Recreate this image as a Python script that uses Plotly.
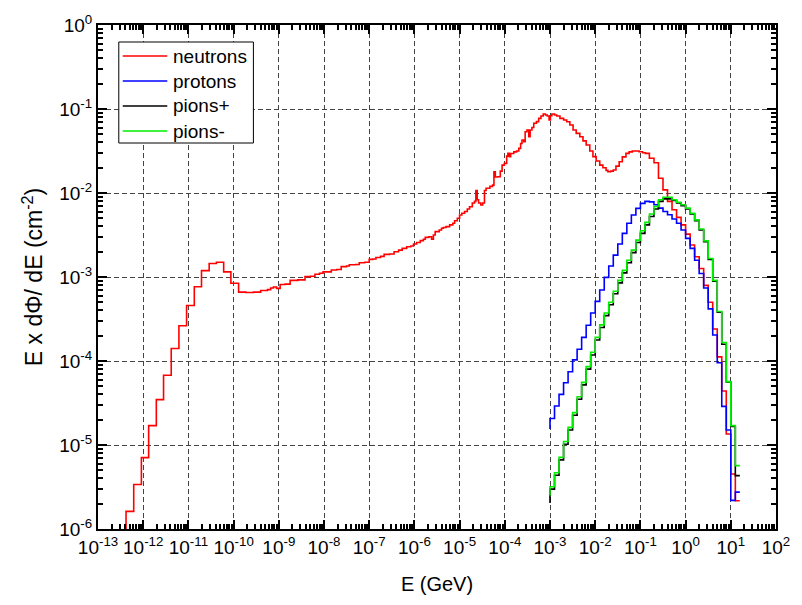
import plotly.graph_objects as go

# ---------------------------------------------------------------------------
# Spectra: E x dPhi/dE (cm^-2) vs E (GeV), stored as histogram bins.
# *_edges are bin boundaries (n+1), *_flux the bin contents (n),
# *_start the level at which the step line begins on the first edge.
# ---------------------------------------------------------------------------

# neutrons (irregular bins)
neutron_edges = [
    4.17e-13, 6.17e-13, 9.12e-13, 1.32e-12, 1.95e-12, 2.82e-12, 4.17e-12, 6.17e-12,
    9.12e-12, 1.35e-11, 1.95e-11, 2.88e-11, 4.17e-11, 6.03e-11, 8.71e-11, 1.29e-10,
    1.86e-10, 2.75e-10, 3.98e-10, 5.62e-10, 6.61e-10, 7.59e-10, 8.91e-10, 1.07e-9,
    1.38e-9, 1.78e-9, 2.63e-9, 3.80e-9, 5.01e-9, 6.31e-9, 7.94e-9, 9.55e-9,
    1.45e-8, 1.91e-8, 2.40e-8, 3.16e-8, 3.63e-8, 5.01e-8, 6.03e-8, 7.94e-8,
    1.00e-7, 1.20e-7, 1.41e-7, 1.78e-7, 2.14e-7, 2.82e-7, 3.55e-7, 4.47e-7,
    5.37e-7, 6.76e-7, 8.32e-7, 9.55e-7, 1.12e-6, 1.35e-6, 1.58e-6, 1.74e-6,
    2.09e-6, 2.40e-6, 2.63e-6, 2.88e-6, 3.55e-6, 3.98e-6, 4.37e-6, 5.01e-6,
    6.03e-6, 7.08e-6, 7.76e-6, 8.91e-6, 1.00e-5, 1.12e-5, 1.29e-5, 1.48e-5,
    1.66e-5, 1.91e-5, 2.14e-5, 2.29e-5, 2.45e-5, 2.63e-5, 2.95e-5, 3.24e-5,
    3.55e-5, 3.85e-5, 4.68e-5, 5.37e-5, 5.75e-5, 6.17e-5, 6.92e-5, 7.94e-5,
    8.71e-5, 9.77e-5, 1.10e-4, 1.17e-4, 1.26e-4, 1.35e-4, 1.58e-4, 1.82e-4,
    2.04e-4, 2.24e-4, 2.40e-4, 2.63e-4, 2.82e-4, 3.09e-4, 3.39e-4, 3.63e-4,
    3.98e-4, 4.37e-4, 5.01e-4, 5.62e-4, 6.31e-4, 7.08e-4, 7.94e-4, 8.71e-4,
    9.55e-4, 1.02e-3, 1.10e-3, 1.26e-3, 1.41e-3, 1.66e-3, 2.00e-3, 2.34e-3,
    2.75e-3, 3.24e-3, 3.80e-3, 4.57e-3, 5.37e-3, 6.31e-3, 7.59e-3, 8.91e-3,
    1.05e-2, 1.26e-2, 1.48e-2, 1.74e-2, 1.91e-2, 2.19e-2, 2.51e-2, 2.88e-2,
    3.39e-2, 3.98e-2, 4.79e-2, 5.62e-2, 6.61e-2, 7.94e-2, 9.33e-2, 0.112,
    0.129, 0.158, 0.200, 0.251, 0.316, 0.398, 0.501, 0.631,
    0.794, 1.00, 1.26, 1.58, 2.00, 2.51, 3.16, 3.98,
    5.01, 6.31, 7.94, 10.0, 12.6, 15.8,
]
neutron_flux = [
    1.62e-6, 3.39e-6, 7.08e-6, 1.70e-5, 3.47e-5, 6.76e-5, 1.41e-4, 2.63e-4,
    4.57e-4, 7.67e-4, 1.19e-3, 1.45e-3, 1.50e-3, 1.15e-3, 8.41e-4, 6.61e-4,
    6.53e-4, 6.61e-4, 6.92e-4, 7.08e-4, 7.41e-4, 7.59e-4, 7.33e-4, 8.13e-4,
    8.22e-4, 9.12e-4, 9.23e-4, 1.01e-3, 1.02e-3, 1.08e-3, 1.11e-3, 1.15e-3,
    1.21e-3, 1.23e-3, 1.33e-3, 1.35e-3, 1.40e-3, 1.41e-3, 1.48e-3, 1.50e-3,
    1.62e-3, 1.64e-3, 1.71e-3, 1.76e-3, 1.86e-3, 1.88e-3, 2.00e-3, 2.09e-3,
    2.19e-3, 2.29e-3, 2.34e-3, 2.47e-3, 2.57e-3, 2.71e-3, 2.82e-3, 2.96e-3,
    3.02e-3, 2.82e-3, 3.16e-3, 3.47e-3, 3.63e-3, 3.80e-3, 3.89e-3, 3.98e-3,
    4.17e-3, 4.37e-3, 4.68e-3, 5.01e-3, 5.47e-3, 5.75e-3, 6.03e-3, 6.46e-3,
    6.87e-3, 7.59e-3, 7.94e-3, 1.07e-2, 8.32e-3, 7.59e-3, 7.19e-3, 7.59e-3,
    1.07e-2, 1.14e-2, 1.20e-2, 1.24e-2, 1.79e-2, 1.55e-2, 1.56e-2, 1.82e-2,
    2.15e-2, 2.25e-2, 2.75e-2, 2.96e-2, 2.71e-2, 2.95e-2, 3.09e-2, 3.16e-2,
    3.40e-2, 3.89e-2, 4.28e-2, 4.08e-2, 5.37e-2, 5.62e-2, 4.68e-2, 5.62e-2,
    6.03e-2, 6.76e-2, 7.08e-2, 7.74e-2, 8.26e-2, 8.71e-2, 8.49e-2, 8.26e-2,
    7.40e-2, 8.32e-2, 8.71e-2, 8.49e-2, 8.26e-2, 7.74e-2, 7.40e-2, 7.06e-2,
    6.46e-2, 5.62e-2, 5.13e-2, 4.68e-2, 4.17e-2, 3.72e-2, 3.16e-2, 2.71e-2,
    2.40e-2, 2.15e-2, 2.00e-2, 1.86e-2, 1.79e-2, 1.82e-2, 1.88e-2, 2.09e-2,
    2.36e-2, 2.69e-2, 2.96e-2, 3.09e-2, 3.16e-2, 3.16e-2, 3.10e-2, 3.02e-2,
    2.96e-2, 2.59e-2, 2.29e-2, 1.50e-2, 1.09e-2, 7.94e-3, 6.31e-3, 5.13e-3,
    4.17e-3, 3.24e-3, 2.40e-3, 1.74e-3, 1.26e-3, 7.94e-4, 5.01e-4, 2.40e-4,
    1.12e-4, 4.40e-5, 1.35e-5, 4.52e-6, 2.17e-6,
]
neutron_start = 5.0e-7

# charged hadrons share ten bins per decade from 1 MeV to ~16 GeV
hadron_edges = [
    1.000e-3, 1.259e-3, 1.585e-3, 1.995e-3, 2.512e-3, 3.162e-3, 3.981e-3, 5.012e-3, 6.310e-3, 7.943e-3,
    1.000e-2, 1.259e-2, 1.585e-2, 1.995e-2, 2.512e-2, 3.162e-2, 3.981e-2, 5.012e-2, 6.310e-2, 7.943e-2,
    1.000e-1, 1.259e-1, 1.585e-1, 1.995e-1, 2.512e-1, 3.162e-1, 3.981e-1, 5.012e-1, 6.310e-1, 7.943e-1,
    1.000, 1.259, 1.585, 1.995, 2.512, 3.162, 3.981, 5.012, 6.310, 7.943,
    10.00, 12.59, 15.85,
]

proton_flux = [
    2.07e-5, 2.91e-5, 4.01e-5, 5.52e-5, 7.46e-5, 1.03e-4, 1.38e-4, 1.91e-4, 2.66e-4, 3.72e-4,
    5.13e-4, 7.00e-4, 9.90e-4, 1.35e-3, 1.82e-3, 2.47e-3, 3.31e-3, 4.37e-3, 5.47e-3, 6.56e-3,
    7.53e-3, 7.94e-3, 7.85e-3, 7.24e-3, 6.61e-3, 6.03e-3, 5.50e-3, 4.90e-3, 4.37e-3, 3.63e-3,
    2.88e-3, 2.19e-3, 1.58e-3, 1.10e-3, 7.41e-4, 4.17e-4, 2.04e-4, 9.55e-5, 2.88e-5, 1.51e-5,
    2.19e-6, 2.75e-6,
]
proton_start = 1.55e-5

pion_plus_flux = [
    2.98e-6, 4.37e-6, 6.65e-6, 1.02e-5, 1.51e-5, 2.26e-5, 3.51e-5, 5.20e-5, 8.00e-5, 1.18e-4,
    1.78e-4, 2.51e-4, 3.47e-4, 4.68e-4, 6.31e-4, 8.51e-4, 1.12e-3, 1.48e-3, 1.95e-3, 2.57e-3,
    3.31e-3, 4.17e-3, 5.25e-3, 6.46e-3, 7.94e-3, 8.51e-3, 8.51e-3, 8.13e-3, 7.59e-3, 7.08e-3,
    6.46e-3, 5.62e-3, 4.68e-3, 3.63e-3, 2.63e-3, 1.62e-3, 8.91e-4, 3.80e-4, 1.58e-4, 5.62e-5,
    1.66e-5, 4.32e-6,
]
pion_plus_start = 2.04e-6

pion_minus_flux = [
    3.19e-6, 4.68e-6, 7.13e-6, 1.10e-5, 1.62e-5, 2.43e-5, 3.76e-5, 5.57e-5, 8.57e-5, 1.27e-4,
    1.91e-4, 2.69e-4, 3.72e-4, 5.01e-4, 6.76e-4, 9.12e-4, 1.20e-3, 1.58e-3, 2.09e-3, 2.75e-3,
    3.55e-3, 4.47e-3, 5.62e-3, 6.92e-3, 8.32e-3, 8.91e-3, 8.91e-3, 8.32e-3, 7.76e-3, 7.24e-3,
    6.61e-3, 5.75e-3, 4.79e-3, 3.72e-3, 2.69e-3, 1.66e-3, 9.12e-4, 3.89e-4, 1.66e-4, 5.68e-5,
    1.70e-5, 5.68e-6,
]
pion_minus_start = 2.51e-6

x_tick_exponents = list(range(-13, 3))
y_tick_exponents = list(range(-6, 1))

series = [
    ("neutrons", neutron_edges, neutron_flux, neutron_start, "#ff0000"),
    ("protons", hadron_edges, proton_flux, proton_start, "#0000ff"),
    ("pions+", hadron_edges, pion_plus_flux, pion_plus_start, "#000000"),
    ("pions-", hadron_edges, pion_minus_flux, pion_minus_start, "#00ee00"),
]

FONT = "Arial, Liberation Sans, sans-serif"
LINE_W = 1.6

fig = go.Figure()
for name, edges, flux, start, color in series:
    assert len(edges) == len(flux) + 1, name
    fig.add_trace(go.Scatter(
        x=edges,
        y=[start] + list(flux),
        mode="lines",
        line=dict(color=color, width=LINE_W, shape="vh"),
        name=name,
        showlegend=False,
    ))


def power_labels(exps):
    return [10.0 ** e for e in exps], [f"10<sup>{e}</sup>" for e in exps]


xt_vals, xt_text = power_labels(x_tick_exponents)
yt_vals, yt_text = power_labels(y_tick_exponents)

axis_common = dict(
    type="log",
    showline=True,
    linecolor="black",
    linewidth=2,
    mirror="allticks",
    ticks="inside",
    ticklen=9,
    tickwidth=2,
    tickcolor="black",
    tickmode="array",
    showgrid=True,
    gridcolor="#444444",
    gridwidth=1,
    griddash="5px,3px",
    zeroline=False,
    tickfont=dict(family=FONT, size=19, color="black"),
    minor=dict(ticks="inside", ticklen=5, tickwidth=1.5, tickcolor="black",
               dtick="D1", showgrid=False),
)

fig.update_xaxes(
    **axis_common,
    range=[-13, 2],
    tickvals=xt_vals,
    ticktext=xt_text,
    title=dict(text="E (GeV)", font=dict(family=FONT, size=20, color="black"), standoff=20),
)
fig.update_yaxes(
    **axis_common,
    range=[-6, 0],
    tickvals=yt_vals,
    ticktext=yt_text,
    title=dict(text="E x d\u03a6/ dE (cm<sup>-2</sup>)",
               font=dict(family=FONT, size=23, color="black"), standoff=10),
)

# Legend box drawn in paper coordinates of the plot area
PLOT_L, PLOT_R, PLOT_T, PLOT_B = 98, 783, 25, 529


def px(x):
    return (x - PLOT_L) / (PLOT_R - PLOT_L)


def py(y):
    return (PLOT_B - y) / (PLOT_B - PLOT_T)


shapes = [dict(type="rect", xref="paper", yref="paper",
               x0=px(119), x1=px(255), y0=py(143), y1=py(42),
               line=dict(color="black", width=1), fillcolor="white", layer="above")]
annotations = []
for i, (name, _, _, _, color) in enumerate(series):
    row_y = 56 + 25 * i
    shapes.append(dict(type="line", xref="paper", yref="paper",
                       x0=px(123), x1=px(168), y0=py(row_y), y1=py(row_y),
                       line=dict(color=color, width=LINE_W), layer="above"))
    annotations.append(dict(text=name, xref="paper", yref="paper",
                            x=px(172), y=py(row_y), xanchor="left", yanchor="middle",
                            showarrow=False,
                            font=dict(family=FONT, size=19, color="black")))

fig.update_layout(
    width=802,
    height=605,
    margin=dict(l=PLOT_L, r=802 - PLOT_R, t=PLOT_T, b=605 - PLOT_B),
    plot_bgcolor="white",
    paper_bgcolor="white",
    font=dict(family=FONT, color="black"),
    showlegend=False,
    shapes=shapes,
    annotations=annotations,
)

fig.write_html("out.html")
